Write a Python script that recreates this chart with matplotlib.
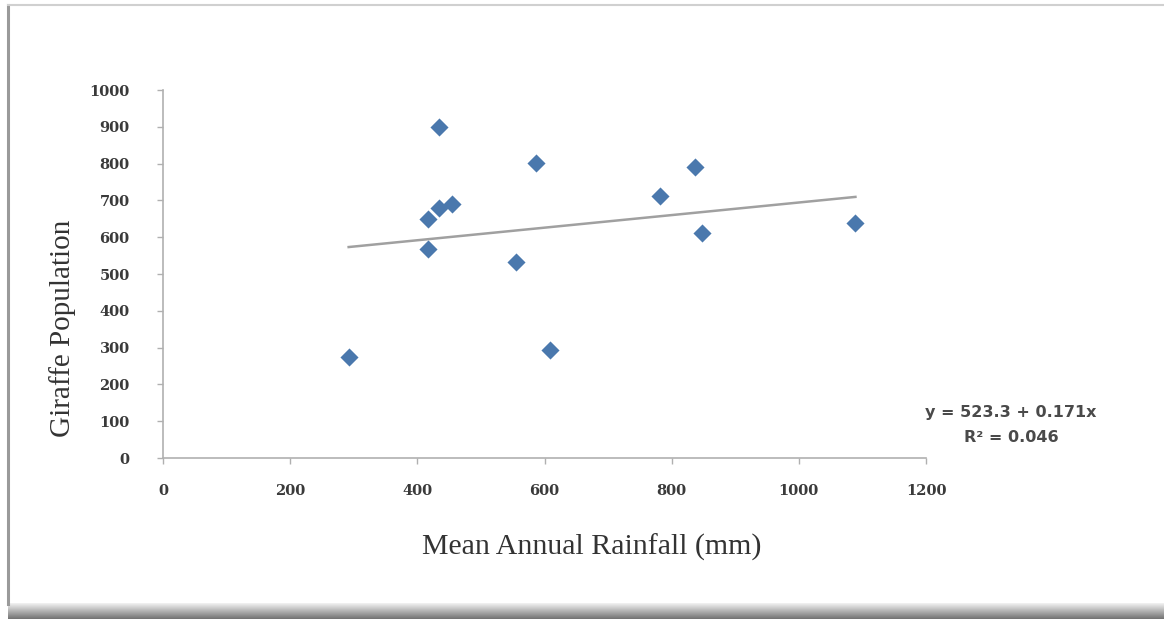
import numpy as np
import matplotlib
matplotlib.use("Agg")
import matplotlib.pyplot as plt
from matplotlib.lines import Line2D

# Data
rainfall = [292, 417, 417, 434, 455, 434, 586, 555, 609, 781, 836, 847, 1089]
giraffes = [274, 568, 650, 679, 690, 899, 801, 533, 293, 712, 790, 612, 639]
trend_intercept = 523.3
trend_slope = 0.171
x_ticks = [0, 200, 400, 600, 800, 1000, 1200]
y_ticks = [0, 100, 200, 300, 400, 500, 600, 700, 800, 900, 1000]
eq_line1 = "y = 523.3 + 0.171x"
eq_line2 = "R² = 0.046"

W, H = 1164, 619
fig = plt.figure(figsize=(W / 100, H / 100), dpi=100)
fig.patch.set_facecolor("white")

# outer frame
fig.add_artist(Line2D([8 / W, 8 / W], [1 - 5 / H, 1 - 604 / H], color="#9a9a9a", lw=2.2))
fig.add_artist(Line2D([8 / W, 1], [1 - 5 / H, 1 - 5 / H], color="#d0d0d0", lw=1.5))
shadow_ax = fig.add_axes([8 / W, 0, 1 - 8 / W, 16 / H])
grad = np.linspace(0.95, 0.45, 50).reshape(-1, 1)
shadow_ax.imshow(grad, aspect="auto", cmap="gray", vmin=0, vmax=1, extent=[0, 1, 0, 1])
shadow_ax.axis("off")

ax = fig.add_axes([163 / W, 1 - 458 / H, (926 - 163) / W, (458 - 90) / H])
ax.scatter(rainfall, giraffes, marker="D", s=85, color="#4a78ad", zorder=3, linewidths=0)

xs = np.array([min(rainfall), max(rainfall)])
ax.plot(xs, trend_intercept + trend_slope * xs, color="#a0a0a0", lw=1.8, zorder=2)

ax.set_xlim(0, 1200)
ax.set_ylim(0, 1000)
ax.set_xticks(x_ticks)
ax.set_yticks(y_ticks)
tick_font = dict(family="DejaVu Serif", weight="bold", size=10.5)
ax.set_xticklabels([str(v) for v in x_ticks], fontdict=tick_font, color="#3a3a3a")
ax.set_yticklabels([str(v) for v in y_ticks], fontdict=tick_font, color="#3a3a3a")
for s in ["top", "right"]:
    ax.spines[s].set_visible(False)
for s in ["left", "bottom"]:
    ax.spines[s].set_color("#b0b0b0")
    ax.spines[s].set_linewidth(1.2)
ax.tick_params(axis="both", direction="out", length=4, color="#b0b0b0", width=1)
ax.tick_params(axis="y", pad=20)
ax.tick_params(axis="x", pad=15)

fig.text(592 / W, 1 - 547 / H, "Mean Annual Rainfall (mm)", family="Liberation Serif", size=21.5,
         color="#333333", ha="center", va="center")
fig.text(63 / W, 1 - 328 / H, "Giraffe Population", family="Liberation Serif", size=21,
         color="#333333", ha="center", va="center", rotation=90)

fig.text(1011 / W, 1 - 412 / H, eq_line1, ha="center", va="center", family="DejaVu Sans",
         weight="bold", size=11.5, color="#4a4a4a")
fig.text(1011 / W, 1 - 437 / H, eq_line2, ha="center", va="center", family="DejaVu Sans",
         weight="bold", size=11.5, color="#4a4a4a")

fig.savefig("out.png", dpi=100)
